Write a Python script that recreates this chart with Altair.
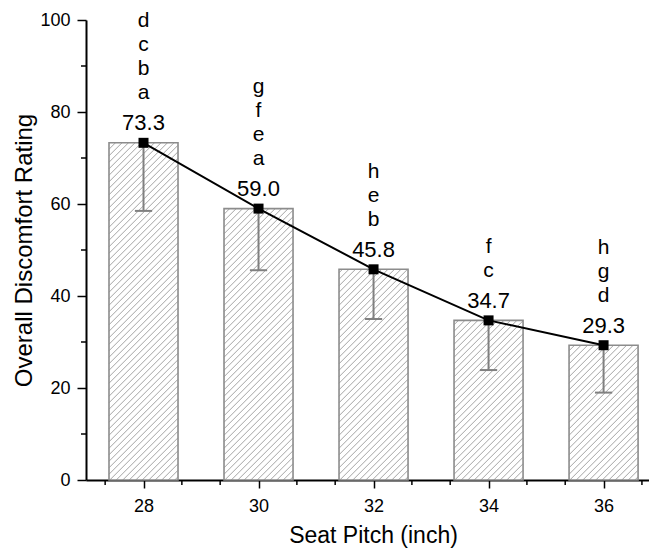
import altair as alt
import pandas as pd
import numpy as np

# ---- data ----
pitch = [28, 30, 32, 34, 36]
rating = [73.3, 59.0, 45.8, 34.7, 29.3]
sd = [14.8, 13.4, 10.8, 10.8, 10.3]
letters = [["d", "c", "b", "a"], ["g", "f", "e", "a"], ["h", "e", "b"], ["f", "c"], ["h", "g", "d"]]
x_ticks = [28, 30, 32, 34, 36]
x_minor = [27.333, 28.667, 29.333, 30.667, 31.333, 32.667, 33.333, 34.667, 35.333, 36.667]
y_ticks = [0, 20, 40, 60, 80, 100]
y_minor = [10, 30, 50, 70, 90]

FONT = "Liberation Sans"
X_DOMAIN = [27, 36.79]
Y_DOMAIN = [0, 100]
W, H = 563, 460
HALF = 0.6     # half bar width (x units)
CAP = 0.15     # half cap width (x units)
NUM_DY = -12.5   # value label baseline above point (px)
GAP = 31         # value baseline -> first letter baseline (px)
LINE_H = 24      # spacing between stacked letters (px)

df = pd.DataFrame({"pitch": pitch, "rating": rating, "sd": sd})
df["x0"] = df["pitch"] - HALF
df["x1"] = df["pitch"] + HALF
df["low"] = df["rating"] - df["sd"]
df["c0"] = df["pitch"] - CAP
df["c1"] = df["pitch"] + CAP

# stacked text: line 0 = value, lines 1.. = letters from bottom upwards
trows = []
for p, r, ls in zip(pitch, rating, letters):
    lines = [f"{r:.1f}"] + list(reversed(ls))
    for k, s in enumerate(lines):
        trows.append({"pitch": p, "rating": r, "k": k, "txt": s})
tdf = pd.DataFrame(trows)

# hatch segments ("/" at 45 deg in screen space) derived from the bars
sx = W / (X_DOMAIN[1] - X_DOMAIN[0])
sy = H / (Y_DOMAIN[1] - Y_DOMAIN[0])
step = 6.5
rows = []
for c, v in zip(pitch, rating):
    bw = 2 * HALF * sx
    bh = v * sy
    t = -bw + step / 2
    while t < bh:
        xs = max(0.0, -t)
        xe = min(bw, bh - t)
        if xe > xs:
            rows.append({
                "hx": c - HALF + xs / sx, "hy": (xs + t) / sy,
                "hx2": c - HALF + xe / sx, "hy2": (xe + t) / sy,
            })
        t += step
hatch = pd.DataFrame(rows)

xscale = alt.Scale(domain=X_DOMAIN, nice=False, zero=False)
yscale = alt.Scale(domain=Y_DOMAIN, nice=False)

xaxis = alt.Axis(values=x_ticks, format="d", title="Seat Pitch (inch)", grid=False,
                 tickSize=8, tickWidth=1.5, tickColor="black",
                 domainColor="black", domainWidth=2, labelPadding=9,
                 labelFontSize=18, titleFontSize=23, titlePadding=9,
                 titleX=287, labelFont=FONT, titleFont=FONT,
                 labelColor="black", titleColor="black", titleFontWeight="normal")
yaxis = alt.Axis(values=y_ticks, format="d", title="Overall Discomfort Rating", grid=False,
                 tickSize=9, tickWidth=1.5, tickColor="black",
                 domainColor="black", domainWidth=2, labelPadding=7,
                 labelFontSize=18, titleFontSize=24, titlePadding=3,
                 labelFont=FONT, titleFont=FONT,
                 labelColor="black", titleColor="black", titleFontWeight="normal")

base = alt.Chart(df)

bars_fill = base.mark_rect(fill="white", stroke=None).encode(
    x=alt.X("x0:Q", scale=xscale, axis=xaxis),
    x2="x1:Q",
    y=alt.Y("rating:Q", scale=yscale, axis=yaxis),
    y2=alt.datum(0),
)

hatch_layer = alt.Chart(hatch).mark_rule(color="#9a9a9a", strokeWidth=0.9).encode(
    x="hx:Q", y="hy:Q", x2="hx2:Q", y2="hy2:Q"
)

bars_outline = base.mark_rect(fillOpacity=0, stroke="#8c8c8c", strokeWidth=1.6).encode(
    x="x0:Q", x2="x1:Q", y="rating:Q", y2=alt.datum(0)
)

err = base.mark_rule(color="#808080", strokeWidth=2).encode(
    x="pitch:Q", y="rating:Q", y2="low:Q"
)
caps = base.mark_rule(color="#808080", strokeWidth=2).encode(
    x="c0:Q", x2="c1:Q", y="low:Q"
)

line = base.mark_line(color="black", strokeWidth=2).encode(
    x="pitch:Q", y="rating:Q"
)
points = base.mark_square(size=100, color="black", opacity=1).encode(
    x="pitch:Q", y="rating:Q"
)

text_layers = []
for k in range(5):
    dy = NUM_DY if k == 0 else NUM_DY - GAP - LINE_H * (k - 1)
    text_layers.append(
        alt.Chart(tdf).transform_filter(alt.datum.k == k).mark_text(
            font=FONT, fontSize=22 if k == 0 else 21, color="black",
            baseline="alphabetic", align="center", dy=dy
        ).encode(x="pitch:Q", y="rating:Q", text="txt:N")
    )

xminor = alt.Chart(pd.DataFrame({"m": x_minor})).mark_rule(color="black", strokeWidth=1.5).encode(
    x="m:Q", y=alt.value(H), y2=alt.value(H + 5)
)
yminor = alt.Chart(pd.DataFrame({"m": y_minor})).mark_rule(color="black", strokeWidth=1.5).encode(
    y="m:Q", x=alt.value(-5), x2=alt.value(0)
)

chart = alt.layer(
    bars_fill, hatch_layer, bars_outline, err, caps, line, points, *text_layers, xminor, yminor
).properties(
    width=W, height=H,
    autosize=alt.AutoSizeParams(type="none"),
    padding={"left": 78, "top": 12, "right": 0, "bottom": 76},
).configure_view(stroke=None)

chart.save("out.html", embed_options={"renderer": "svg", "actions": False})
